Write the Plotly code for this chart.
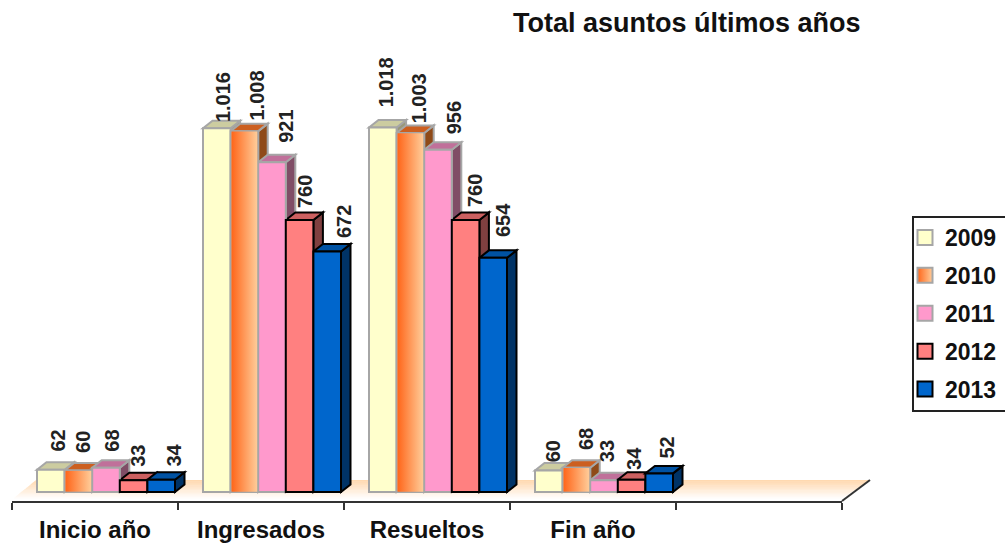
import plotly.graph_objects as go

title = "Total asuntos últimos años"
categories = ["Inicio año", "Ingresados", "Resueltos", "Fin año"]
years = ["2009", "2010", "2011", "2012", "2013"]
v2009 = [62, 1016, 1018, 60]
v2010 = [60, 1008, 1003, 68]
v2011 = [68, 921, 956, 33]
v2012 = [33, 760, 760, 34]
v2013 = [34, 672, 654, 52]
series = [v2009, v2010, v2011, v2012, v2013]

# styles
front = ["#FFFFCC", "#FF9A55", "#FF99CC", "#FF8080", "#0066CC"]
top = ["#CCCCA0", "#CC5F20", "#C0709A", "#CC6060", "#0052A3"]
side = ["#99997A", "#8F4A18", "#804D66", "#804040", "#003366"]
edge = ["#A6A6A6", "#A6A6A6", "#A6A6A6", "#000000", "#000000"]
font = "Liberation Sans, Arial, sans-serif"

# layout geometry (pixels in the 1005x545 page)
W, H = 1005, 545
AX_L, AX_R, AX_Y, TOP_Y, BASE_Y = 12, 842, 501, 11, 492
PX_PER_UNIT = 0.358
PX_PER_CAT = (AX_R - AX_L) / 5
BAR_W = 27.6 / PX_PER_CAT
GROUP_SHIFT = 11 / PX_PER_CAT
DX = 9.5 / PX_PER_CAT
DY = 7.5 / PX_PER_UNIT
y_lo = (BASE_Y - AX_Y) / PX_PER_UNIT
y_hi = (BASE_Y - TOP_Y) / PX_PER_UNIT

# label offsets in pixels: [series][category]
label_dx = [[7, 6, 3, 4], [4, 13, 9, 9], [6, 14, 16, 3], [5, 6, 10, 3], [13, 17, 10, 8]]
label_dy = [[16, 4, 18, 6], [16, 9, 8, 16], [14, 17, 13, 16], [11, 10, 11, 8], [11, 11, 19, 13]]


def bar_left(cat, s):
    return cat + GROUP_SHIFT + (s - 2.5) * BAR_W


def poly(pts):
    return "M " + " L ".join(f"{x} {y}" for x, y in pts) + " Z"


shapes = []
# floor, fading from peach at the back edge to white at the front
n = 14
for i in range(n):
    a, b = i / n, (i + 1) / n
    yy0, yy1 = 480 + 18 * a, 480 + 18 * b
    xl0, xl1 = 36 - 28 * a * 0.8, 36 - 28 * b * 0.8
    xr0, xr1 = 870 - 28 * a, 870 - 28 * b
    c = (
        255,
        int(217 + (255 - 217) * a),
        int(176 + (255 - 176) * a),
    )
    shapes.append(dict(
        type="path", xref="paper", yref="paper", layer="below", line=dict(width=0),
        fillcolor=f"rgb{c}",
        path=poly([(xl0 / W, 1 - yy0 / H), (xr0 / W, 1 - yy0 / H),
                    (xr1 / W, 1 - (yy1 + .5) / H), (xl1 / W, 1 - (yy1 + .5) / H)]),
    ))
shapes.append(dict(type="line", xref="paper", yref="paper", layer="above",
                   x0=AX_R / W, y0=1 - AX_Y / H, x1=870 / W, y1=1 - 480 / H,
                   line=dict(color="#333333", width=2)))

# depth faces, computed from the values
for c in range(len(categories)):
    for s, vals in enumerate(series):
        x0 = bar_left(c, s)
        x1 = x0 + BAR_W
        v = vals[c]
        shapes.append(dict(type="path", xref="x", yref="y", layer="below",
                           fillcolor=side[s], line=dict(color=edge[s], width=2),
                           path=poly([(x1, 0), (x1 + DX, DY), (x1 + DX, v + DY), (x1, v)])))
        shapes.append(dict(type="path", xref="x", yref="y", layer="below",
                           fillcolor=top[s], line=dict(color=edge[s], width=2),
                           path=poly([(x0, v), (x0 + DX, v + DY), (x1 + DX, v + DY), (x1, v)])))

# legend frame
shapes.append(dict(type="rect", xref="paper", yref="paper",
                   x0=913 / W, x1=1.02, y0=1 - 411 / H, y1=1 - 217 / H,
                   line=dict(color="#222222", width=2)))

fig = go.Figure()
xs = list(range(len(categories)))
for s, vals in enumerate(series):
    fig.add_trace(go.Bar(
        x=xs, y=vals, name=years[s], width=BAR_W,
        offset=GROUP_SHIFT + (s - 2.5) * BAR_W,
        marker=dict(color=front[s], line=dict(color=edge[s], width=2)),
        showlegend=False,
    ))

# the 2010 front faces carry a horizontal gradient
for c in xs:
    x0 = bar_left(c, 1) + 0.006
    x1 = bar_left(c, 1) + BAR_W - 0.006
    v = v2010[c]
    fig.add_trace(go.Scatter(
        x=[x0, x1, x1, x0, x0], y=[1, 1, v - 1, v - 1, 1],
        mode="none", fill="toself", showlegend=False, hoverinfo="skip",
        fillgradient=dict(type="horizontal", colorscale=[[0, "#FF661A"], [1, "#FFCC99"]]),
    ))

# legend entries
for s, yr in enumerate(years):
    m = dict(symbol="square", size=15, color=front[s], line=dict(color=edge[s], width=2))
    if s == 1:
        m["color"] = "#FF661A"
        m["gradient"] = dict(type="horizontal", color="#FFCC99")
    fig.add_trace(go.Scatter(x=[None], y=[None], mode="markers", name=yr, marker=m,
                             legendgroup=yr, showlegend=True))

annotations = []
for c in xs:
    for s, vals in enumerate(series):
        annotations.append(dict(
            x=bar_left(c, s) + BAR_W / 2, y=vals[c], xref="x", yref="y",
            text="<b>" + f"{vals[c]:,}".replace(",", ".") + "</b>", showarrow=False, textangle=-90,
            xanchor="center", yanchor="bottom",
            xshift=label_dx[s][c], yshift=label_dy[s][c],
            font=dict(family=font, size=20, color="#222222"),
        ))
annotations.append(dict(
    x=687 / W, y=1 - 23 / H, xref="paper", yref="paper", text=f"<b>{title}</b>",
    xanchor="center", yanchor="middle",
    showarrow=False, font=dict(family=font, size=27, color="#111111"),
))

fig.update_layout(
    width=W, height=H, autosize=False,
    margin=dict(l=0, r=0, t=0, b=0),
    paper_bgcolor="white", plot_bgcolor="rgba(0,0,0,0)",
    barmode="overlay", shapes=shapes, annotations=annotations,
    xaxis=dict(
        domain=[AX_L / W, AX_R / W], range=[-0.5, 4.5], automargin=False,
        tickmode="array", tickvals=xs, ticktext=[f"<b>{t}</b>" for t in categories],
        ticks="outside", ticklen=6, tickcolor="rgba(0,0,0,0)",
        tickfont=dict(family=font, size=24, color="#111111"),
        showline=True, linecolor="#333333", linewidth=2, showgrid=False, zeroline=False,
        minor=dict(tickmode="array", tickvals=[-0.5, 0.5, 1.5, 2.5, 3.5, 4.5], ticks="outside",
                   ticklen=7, tickwidth=2, tickcolor="#333333", showgrid=False),
    ),
    yaxis=dict(domain=[1 - AX_Y / H, 1 - TOP_Y / H], range=[y_lo, y_hi], visible=False, automargin=False),
    legend=dict(
        x=905 / W, xanchor="left", y=1 - 313.5 / H, yanchor="middle",
        bgcolor="rgba(0,0,0,0)", borderwidth=0, tracegroupgap=5,
        font=dict(family=font, size=23, color="#111111", weight="bold"),
        itemclick=False, itemdoubleclick=False,
    ),
    showlegend=True,
)

fig.write_html(
    "out.html",
    config=dict(displayModeBar=False),
    post_script="document.body.style.margin='0';document.documentElement.style.overflow='hidden';",
)
